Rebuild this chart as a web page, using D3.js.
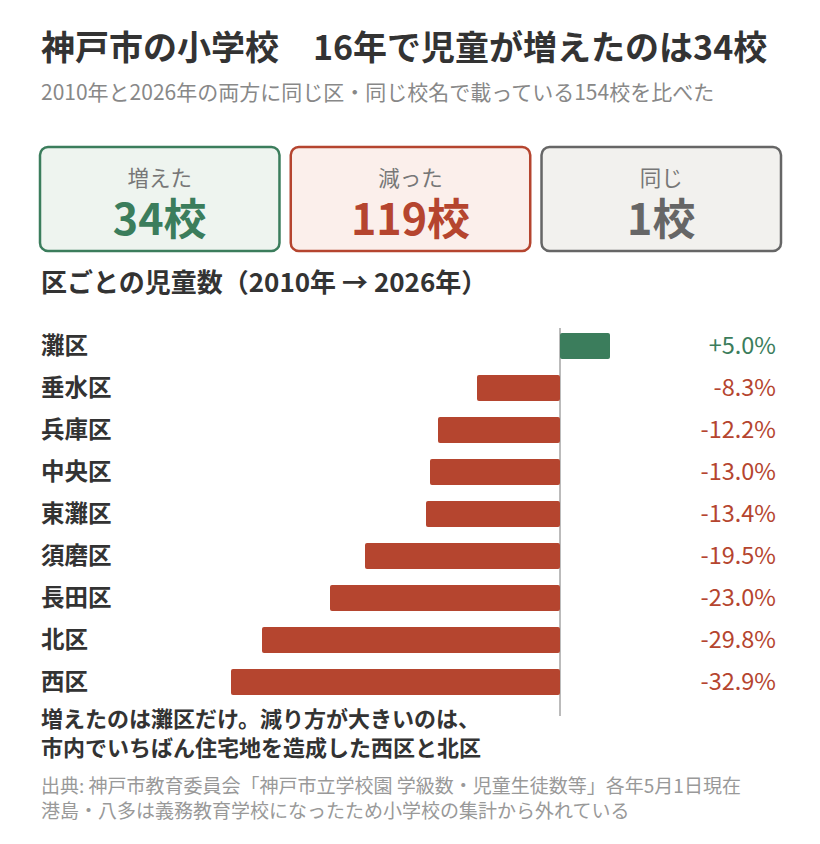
<!DOCTYPE html>
<html lang="ja">
<head>
<meta charset="utf-8">
<script src="https://cdn.jsdelivr.net/npm/d3@7"></script>
<style>
  body { margin: 0; background: #fff; }
  svg { display: block; font-family: "Noto Sans CJK JP", "Noto Sans", sans-serif; }
</style>
</head>
<body>
<svg id="chart" width="820" height="844"></svg>
<script>
// data
var wards = ["灘区", "垂水区", "兵庫区", "中央区", "東灘区", "須磨区", "長田区", "北区", "西区"];
var changes = [5.0, -8.3, -12.2, -13.0, -13.4, -19.5, -23.0, -29.8, -32.9];
var cardLabels = ["増えた", "減った", "同じ"];
var cardCounts = [34, 119, 1];

var GREEN = "#3b7d5c", RED = "#b5452f", GRAY = "#666666";
var cardStroke = [GREEN, RED, GRAY];
var cardFill = ["#eef4ef", "#fbefeb", "#f2f1ee"];

var svg = d3.select("#chart");

// title + subtitle
svg.append("text")
    .attr("x", 41).attr("y", 60)
    .attr("font-size", 34).attr("font-weight", "bold").attr("fill", "#333")
    .text("神戸市の小学校　16年で児童が増えたのは34校");
svg.append("text")
    .attr("x", 41).attr("y", 100)
    .attr("font-size", 21).attr("fill", "#888")
    .text("2010年と2026年の両方に同じ区・同じ校名で載っている154校を比べた");

// summary cards
var cardX = d3.scaleBand().domain(d3.range(3)).range([40, 781]).paddingInner(0.045);
var card = svg.selectAll("g.card").data(cardCounts).enter()
    .append("g").attr("class", "card")
    .attr("transform", function(d, i) { return "translate(" + cardX(i) + ",147)"; });
card.append("rect")
    .attr("width", cardX.bandwidth()).attr("height", 104)
    .attr("rx", 8)
    .attr("fill", function(d, i) { return cardFill[i]; })
    .attr("stroke", function(d, i) { return cardStroke[i]; })
    .attr("stroke-width", 2.5);
card.append("text")
    .attr("x", cardX.bandwidth() / 2).attr("y", 39)
    .attr("text-anchor", "middle")
    .attr("font-size", 21.5).attr("fill", "#777")
    .text(function(d, i) { return cardLabels[i]; });
card.append("text")
    .attr("x", cardX.bandwidth() / 2).attr("y", 88)
    .attr("text-anchor", "middle")
    .attr("font-size", 43).attr("font-weight", "bold")
    .attr("fill", function(d, i) { return cardStroke[i]; })
    .text(function(d) { return d + "校"; });

// section header
svg.append("text")
    .attr("x", 41).attr("y", 292)
    .attr("font-size", 26).attr("font-weight", "bold").attr("fill", "#333")
    .text("区ごとの児童数（2010年 → 2026年）");

// bars
var x = d3.scaleLinear().domain([-35, 5]).range([210, 610]);
var y = d3.scaleBand().domain(wards).range([325, 703]).paddingInner(0.38).paddingOuter(0.19);

svg.append("line")
    .attr("x1", x(0)).attr("x2", x(0))
    .attr("y1", 328).attr("y2", 716)
    .attr("stroke", "#bbb").attr("stroke-width", 2);

svg.selectAll("rect.bar").data(changes).enter()
    .append("rect").attr("class", "bar")
    .attr("x", function(d) { return x(Math.min(0, d)); })
    .attr("y", function(d, i) { return y(wards[i]); })
    .attr("width", function(d) { return Math.abs(x(d) - x(0)); })
    .attr("height", y.bandwidth())
    .attr("rx", 2)
    .attr("fill", function(d) { return d >= 0 ? GREEN : RED; });

svg.selectAll("text.ward").data(wards).enter()
    .append("text").attr("class", "ward")
    .attr("x", 41)
    .attr("y", function(d) { return y(d) + y.bandwidth() / 2; })
    .attr("dy", "0.36em")
    .attr("font-size", 23.5).attr("font-weight", "bold").attr("fill", "#333")
    .text(function(d) { return d; });

svg.selectAll("text.value").data(changes).enter()
    .append("text").attr("class", "value")
    .attr("x", 776)
    .attr("y", function(d, i) { return y(wards[i]) + y.bandwidth() / 2; })
    .attr("dy", "0.36em")
    .attr("text-anchor", "end")
    .attr("font-size", 23.5)
    .attr("fill", function(d) { return d >= 0 ? GREEN : RED; })
    .text(function(d) { return (d > 0 ? "+" : "") + d.toFixed(1) + "%"; });

// note
var notes = ["増えたのは灘区だけ。減り方が大きいのは、", "市内でいちばん住宅地を造成した西区と北区"];
svg.selectAll("text.note").data(notes).enter()
    .append("text").attr("class", "note")
    .attr("x", 41).attr("y", function(d, i) { return 727 + i * 29; })
    .attr("font-size", 22).attr("font-weight", "bold").attr("fill", "#333")
    .text(function(d) { return d; });

var sources = ["出典: 神戸市教育委員会「神戸市立学校園 学級数・児童生徒数等」各年5月1日現在",
               "港島・八多は義務教育学校になったため小学校の集計から外れている"];
svg.selectAll("text.source").data(sources).enter()
    .append("text").attr("class", "source")
    .attr("x", 41).attr("y", function(d, i) { return 793 + i * 25; })
    .attr("font-size", 19).attr("fill", "#999")
    .text(function(d) { return d; });
</script>
</body>
</html>
